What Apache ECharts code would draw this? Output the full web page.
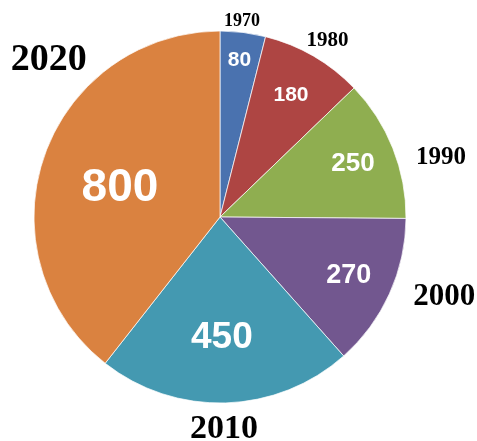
<!DOCTYPE html>
<html>
<head>
<meta charset="utf-8">
<script src="https://cdn.jsdelivr.net/npm/echarts@6/dist/echarts.min.js"></script>
<style>
  html, body { margin: 0; padding: 0; background: #fff; }
  #chart { width: 477px; height: 441px; }
</style>
</head>
<body>
<div id="chart"></div>
<script>
// ---- data ----
const categories = ['1970', '1980', '1990', '2000', '2010', '2020'];
const values = [80, 180, 250, 270, 450, 800];

// ---- styles ----
const colors = ['#4A72AF', '#AE4543', '#8FAE50', '#72578F', '#4499B1', '#DA8240'];
const valueFontSizes = [21, 21, 26, 27, 37, 46];
const yearFontSizes = [18, 21, 25, 31, 34, 38];
// label placement relative to the pie: radius ratio, and angle (deg, clockwise from top) offset
const valueLabelRatio = [0.85, 0.76, 0.77, 0.76, 0.65, 0.56];
const valueLabelAngleShift = [0, 0, 0, 0, 0.9, -2.9];
const yearLabelRatio = [1.06, 1.11, 1.23, 1.28, 1.14, 1.25];
const yearLabelAngleShift = [-0.7, 1.2, 6.7, -4.7, 0.7, 23.5];

const CX = 220, CY = 217, R = 186;

const total = values.reduce((a, b) => a + b, 0);
const midAngles = [];
let acc = 0;
values.forEach(v => { midAngles.push((acc + v / 2) / total * 360); acc += v; });

function polar(angleDeg, dist) {
  const a = angleDeg * Math.PI / 180;
  return { x: CX + dist * Math.sin(a), y: CY - dist * Math.cos(a) };
}

const chart = echarts.init(document.getElementById('chart'), null, { renderer: 'canvas' });

const mainData = categories.map((c, i) => ({
  name: c,
  value: values[i],
  itemStyle: { color: colors[i] },
  label: { fontSize: valueFontSizes[i] }
}));

const yearData = categories.map((c, i) => ({
  name: c,
  value: values[i],
  label: { fontSize: yearFontSizes[i] }
}));

chart.setOption({
  animation: false,
  backgroundColor: '#ffffff',
  series: [
    {
      type: 'pie',
      center: [CX, CY],
      radius: R,
      startAngle: 90,
      clockwise: true,
      silent: true,
      avoidLabelOverlap: false,
      data: yearData,
      itemStyle: { color: 'rgba(0,0,0,0)', borderWidth: 0 },
      label: {
        show: true,
        position: 'outside',
        alignTo: 'none',
        overflow: 'none',
        formatter: '{b}',
        color: '#000',
        fontFamily: '"Liberation Serif", "Times New Roman", serif',
        fontWeight: 'bold'
      },
      labelLine: { show: false, length: 2, length2: 2 },
      labelLayout: function (p) {
        const i = p.dataIndex;
        const pt = polar(midAngles[i] + yearLabelAngleShift[i], R * yearLabelRatio[i]);
        return { x: pt.x, y: pt.y, align: 'center', verticalAlign: 'middle', hideOverlap: false };
      }
    },
    {
      type: 'pie',
      center: [CX, CY],
      radius: R,
      startAngle: 90,
      clockwise: true,
      avoidLabelOverlap: false,
      data: mainData,
      itemStyle: { borderColor: 'rgba(255,255,255,0.7)', borderWidth: 1 },
      label: {
        show: true,
        position: 'inside',
        overflow: 'none',
        formatter: '{c}',
        color: '#ffffff',
        fontFamily: '"Liberation Sans", Arial, sans-serif',
        fontWeight: 'bold'
      },
      labelLine: { show: false },
      labelLayout: function (p) {
        const i = p.dataIndex;
        const pt = polar(midAngles[i] + valueLabelAngleShift[i], R * valueLabelRatio[i]);
        return { x: pt.x, y: pt.y, align: 'center', verticalAlign: 'middle', hideOverlap: false };
      }
    }
  ]
});
</script>
</body>
</html>
